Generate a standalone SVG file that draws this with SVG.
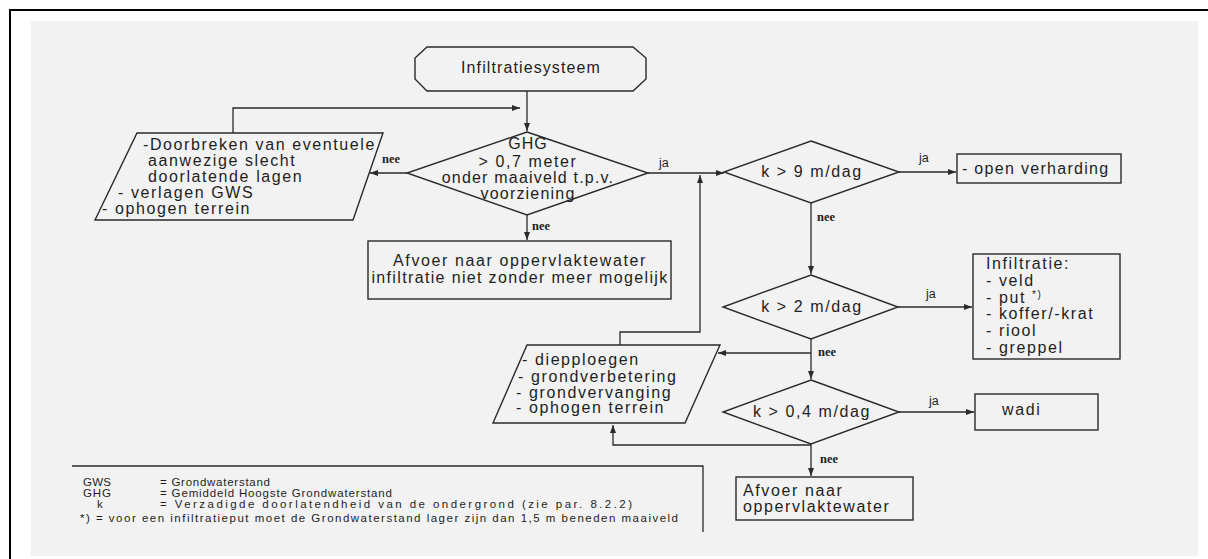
<svg xmlns="http://www.w3.org/2000/svg" width="1208" height="559" viewBox="0 0 1208 559">
<style>
.shape{fill:none;stroke:#2a2a2a;stroke-width:1.4}
.con{fill:none;stroke:#2a2a2a;stroke-width:1.3}
.t{font-family:"Liberation Sans",Arial,sans-serif;font-size:16px;fill:#1e1e1e;letter-spacing:1.6px}
.c{text-anchor:middle}
.nee{font-family:"Liberation Serif","Times New Roman",serif;font-size:12.5px;font-weight:bold;fill:#1e1e1e}
.ja{font-family:"Liberation Sans",Arial,sans-serif;font-size:12.5px;fill:#1e1e1e}
.lg{font-family:"Liberation Sans",Arial,sans-serif;font-size:11.5px;fill:#1e1e1e}
</style>
<defs>
<marker id="ah" viewBox="0 0 8 6" refX="8" refY="3" markerWidth="8" markerHeight="6" markerUnits="userSpaceOnUse" orient="auto">
<path d="M0,0 L8,3 L0,6 z" fill="#2a2a2a"/>
</marker>
</defs>
<rect x="10" y="10" width="1210" height="560" fill="#ffffff" stroke="#000" stroke-width="2"/>
<rect x="31" y="21" width="1167" height="535" fill="#f2f2f2"/>

<g id="connectors">
<path class="con" d="M527,91 V131" marker-end="url(#ah)"/>
<path class="con" d="M407,173 H370" marker-end="url(#ah)"/>
<path class="con" d="M527,215 V240" marker-end="url(#ah)"/>
<path class="con" d="M648,173 H724" marker-end="url(#ah)"/>
<path class="con" d="M233,133 V108 H520" marker-end="url(#ah)"/>
<path class="con" d="M899,172 H956" marker-end="url(#ah)"/>
<path class="con" d="M811,203 V274" marker-end="url(#ah)"/>
<path class="con" d="M898,307 H972" marker-end="url(#ah)"/>
<path class="con" d="M811,339 V379" marker-end="url(#ah)"/>
<path class="con" d="M811,353 H718" marker-end="url(#ah)"/>
<path class="con" d="M899,412 H974" marker-end="url(#ah)"/>
<path class="con" d="M811,444 V476" marker-end="url(#ah)"/>
<path class="con" d="M811,445 H613 V425" marker-end="url(#ah)"/>
<path class="con" d="M620,345 V332 H700 V175" marker-end="url(#ah)"/>
<text class="nee" x="382" y="163">nee</text>
<text class="nee" x="532" y="230">nee</text>
<text class="ja" x="659" y="167">ja</text>
<text class="ja" x="919" y="162">ja</text>
<text class="nee" x="817" y="221">nee</text>
<text class="ja" x="926" y="298">ja</text>
<text class="nee" x="818" y="356">nee</text>
<text class="ja" x="929" y="405">ja</text>
<text class="nee" x="820" y="463">nee</text>
</g>

<g id="start">
<polygon class="shape" points="427,47 633,47 646,58 646,79 633,91 427,91 415,79 415,58"/>
<text class="t c" x="531" y="73" style="letter-spacing:1.1px">Infiltratiesysteem</text>
</g>

<g id="ghg">
<polygon class="shape" points="527,132 648,173 527,215 407,173"/>
<text class="t c" x="528" y="149" style="letter-spacing:1.1px">GHG</text>
<text class="t c" x="528" y="167">&gt; 0,7 meter</text>
<text class="t c" x="528" y="183" style="letter-spacing:1.2px">onder maaiveld t.p.v.</text>
<text class="t c" x="528" y="199" style="letter-spacing:1.2px">voorziening</text>
</g>

<g id="maatregel1">
<polygon class="shape" points="137,133 383,133 353,220 95,220"/>
<text class="t" x="143" y="150">-Doorbreken van eventuele</text>
<text class="t" x="148" y="166">aanwezige slecht</text>
<text class="t" x="148" y="182">doorlatende  lagen</text>
<text class="t" x="118" y="198">- verlagen GWS</text>
<text class="t" x="102" y="214">- ophogen terrein</text>
</g>

<g id="afvoer1">
<rect class="shape" x="368" y="241" width="303" height="58"/>
<text class="t c" x="520" y="266">Afvoer naar oppervlaktewater</text>
<text class="t c" x="520" y="283" style="letter-spacing:1.35px">infiltratie niet zonder meer mogelijk</text>
</g>

<g id="k9">
<polygon class="shape" points="811,141 899,172 811,203 724,172"/>
<text class="t c" x="812" y="177">k &gt; 9 m/dag</text>
</g>

<g id="open">
<rect class="shape" x="957" y="154" width="164" height="29"/>
<text class="t" x="962" y="174" style="letter-spacing:1.3px">- open verharding</text>
</g>

<g id="k2">
<polygon class="shape" points="811,275 898,307 811,339 723,307"/>
<text class="t c" x="812" y="312">k &gt; 2 m/dag</text>
</g>

<g id="infiltratie">
<rect class="shape" x="973" y="254" width="147" height="105"/>
<text class="t" x="986" y="269">Infiltratie:</text>
<text class="t" x="986" y="286">- veld</text>
<text class="t" x="986" y="303">- put <tspan font-size="10" dy="-5">*)</tspan></text>
<text class="t" x="986" y="319">- koffer/-krat</text>
<text class="t" x="986" y="336">- riool</text>
<text class="t" x="986" y="353">- greppel</text>
</g>

<g id="maatregel2">
<polygon class="shape" points="527,345 720,345 685,423 493,423"/>
<text class="t" x="522" y="365">- diepploegen</text>
<text class="t" x="518" y="382">- grondverbetering</text>
<text class="t" x="516" y="398">- grondvervanging</text>
<text class="t" x="516" y="413">- ophogen terrein</text>
</g>

<g id="k04">
<polygon class="shape" points="811,380 899,412 811,444 723,412"/>
<text class="t c" x="812" y="417">k &gt; 0,4 m/dag</text>
</g>

<g id="wadi">
<rect class="shape" x="975" y="394" width="123" height="36"/>
<text class="t" x="1002" y="415">wadi</text>
</g>

<g id="afvoer2">
<rect class="shape" x="736" y="477" width="177" height="43"/>
<text class="t" x="743" y="496">Afvoer naar</text>
<text class="t" x="743" y="512">oppervlaktewater</text>
</g>

<g id="legend">
<path class="con" d="M72,466 H703 V532"/>
<text class="lg" x="83" y="486" textLength="28" lengthAdjust="spacing">GWS</text>
<text class="lg" x="160" y="486" textLength="110" lengthAdjust="spacing">= Grondwaterstand</text>
<text class="lg" x="83" y="497" textLength="28" lengthAdjust="spacing">GHG</text>
<text class="lg" x="160" y="497" textLength="232" lengthAdjust="spacing">= Gemiddeld  Hoogste Grondwaterstand</text>
<text class="lg" x="97" y="508">k</text>
<text class="lg" x="160" y="508" textLength="472" lengthAdjust="spacing">= Verzadigde doorlatendheid van de ondergrond (zie par. 8.2.2)</text>
<text class="lg" x="80" y="522" textLength="598" lengthAdjust="spacing">*) = voor een infiltratieput moet de Grondwaterstand lager zijn dan 1,5 m beneden maaiveld</text>
</g>
</svg>
